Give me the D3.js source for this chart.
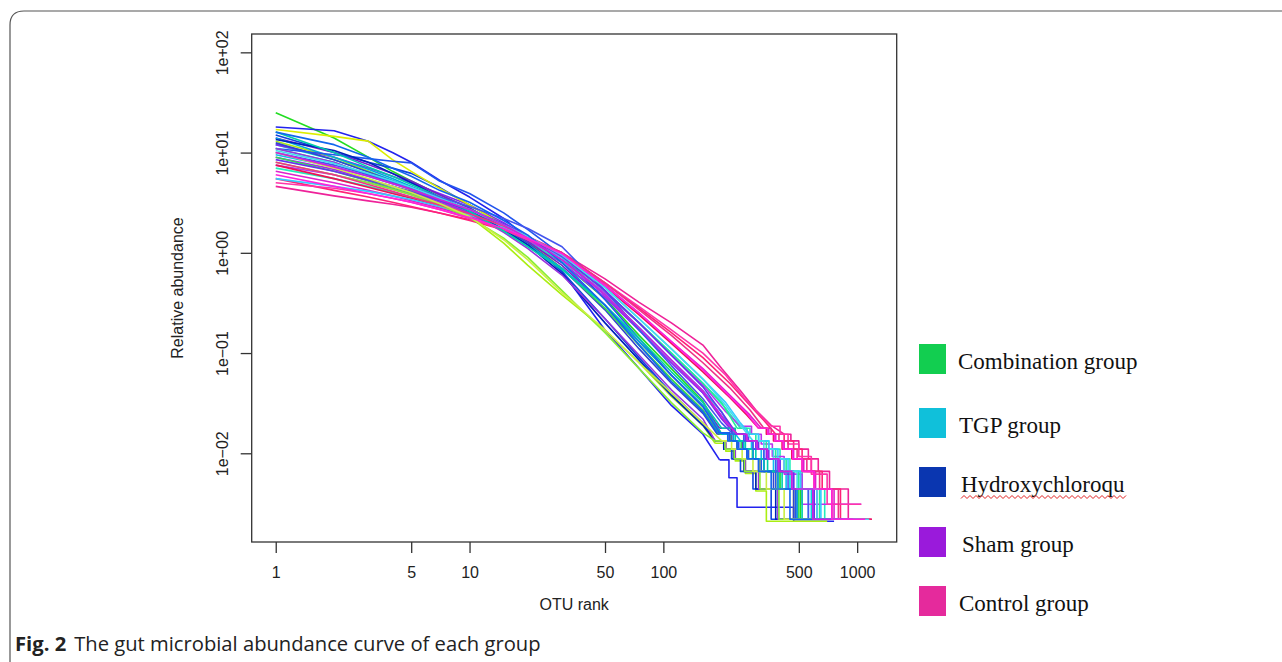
<!DOCTYPE html>
<html><head><meta charset="utf-8">
<script src="https://cdn.jsdelivr.net/npm/d3@7"></script>
<style>body{margin:0;background:#fff}svg{display:block}</style>
</head><body><svg id="c" width="1282" height="662"></svg>
<script>
// ---------------- data ----------------
const GROUPS = ["Combination group", "TGP group", "Hydroxychloroqu", "Sham group", "Control group"];
const GROUP_COLORS = ["#12CE50", "#10C0DA", "#0A36B0", "#9A1ADB", "#E52A9C"];
const X_TICKS = [1, 5, 10, 50, 100, 500, 1000];
const Y_TICKS = [100, 10, 1, 0.1, 0.01];
const Y_TICK_LABELS = ["1e+02", "1e+01", "1e+00", "1e\u221201", "1e\u221202"];
const HEAD_RANKS = [1, 2, 3, 4, 5, 7, 10, 15, 20, 30, 50, 75, 110, 160];

const SAMPLE_COLORS = [
  "#22DD22", "#AAEE11", "#DDEE00", "#33DD55", "#22EE99", "#88EE33", "#CCEE44",
  "#00DDDD", "#11BBEE", "#22EEBB", "#00AADD", "#33CCFF", "#00CCAA", "#44DDEE",
  "#2222EE", "#1144DD", "#3344CC", "#2255EE", "#0022BB", "#4455EE", "#1166EE",
  "#8822EE", "#AA22EE", "#7722CC", "#BB33EE", "#9933DD", "#6633EE", "#CC22DD",
  "#EE2299", "#FF2277", "#DD22CC", "#EE1155", "#FF33AA", "#EE3388", "#FF22DD"
];

const HEAD_VALUES = [
  [25, 14, 9, 6.5, 5.2, 3.8, 2.8, 1.8, 1.3, 0.8, 0.35, 0.15, 0.07, 0.033],
  [13, 9, 6.5, 5.0, 4.2, 3.1, 2.3, 1.25, 0.75, 0.38, 0.17, 0.08, 0.037, 0.019],
  [17, 14.5, 13, 8.5, 6.5, 4.4, 3.0, 1.9, 1.3, 0.7, 0.28, 0.12, 0.055, 0.027],
  [9, 6.5, 5.2, 4.4, 3.9, 3.1, 2.5, 1.7, 1.2, 0.7, 0.28, 0.12, 0.055, 0.027],
  [11, 8, 6, 5, 4.3, 3.4, 2.7, 1.9, 1.4, 0.9, 0.42, 0.2, 0.1, 0.05],
  [8, 6, 5, 4.3, 3.8, 3.0, 2.25, 1.4, 0.9, 0.42, 0.16, 0.07, 0.032, 0.016],
  [10, 7, 5.5, 4.6, 4.0, 3.1, 2.3, 1.35, 0.85, 0.4, 0.17, 0.08, 0.04, 0.02],

  [12, 8.5, 6.5, 5.3, 4.5, 3.5, 2.7, 1.9, 1.4, 0.85, 0.38, 0.18, 0.085, 0.042],
  [9.5, 7.2, 5.8, 4.9, 4.3, 3.4, 2.6, 1.8, 1.3, 0.8, 0.36, 0.17, 0.08, 0.04],
  [7, 5.5, 4.6, 4.0, 3.6, 3.0, 2.4, 1.75, 1.3, 0.82, 0.4, 0.2, 0.1, 0.05],
  [14, 9, 6.8, 5.5, 4.6, 3.5, 2.6, 1.7, 1.2, 0.7, 0.3, 0.13, 0.06, 0.03],
  [5.5, 4.6, 4.1, 3.7, 3.4, 2.9, 2.4, 1.8, 1.4, 0.9, 0.45, 0.22, 0.11, 0.055],
  [16, 10, 7.2, 5.8, 4.8, 3.6, 2.6, 1.65, 1.15, 0.68, 0.3, 0.14, 0.065, 0.032],
  [10.5, 7.8, 6.2, 5.2, 4.5, 3.5, 2.7, 1.9, 1.45, 0.95, 0.45, 0.22, 0.11, 0.055],

  [18, 16.5, 13, 10, 8, 5.3, 3.6, 2.2, 1.4, 0.65, 0.17, 0.07, 0.03, 0.0155],
  [15, 10, 8, 7, 6.2, 4.5, 3.0, 1.9, 1.3, 0.65, 0.22, 0.09, 0.04, 0.02],
  [12.5, 8.5, 6.4, 5.2, 4.4, 3.4, 2.6, 1.75, 1.25, 0.7, 0.27, 0.11, 0.05, 0.025],
  [11, 9.5, 8.7, 8.2, 7.9, 5.2, 3.9, 2.5, 1.7, 0.95, 0.34, 0.14, 0.06, 0.029],
  [13.5, 10.5, 8, 6.2, 5, 3.6, 2.6, 1.7, 1.2, 0.62, 0.2, 0.085, 0.038, 0.019],
  [10, 7.5, 6, 5.1, 4.5, 3.6, 2.9, 2.2, 1.75, 1.15, 0.42, 0.17, 0.075, 0.035],
  [16, 12, 9, 7, 5.8, 4.2, 3.2, 2.1, 1.5, 0.8, 0.3, 0.12, 0.052, 0.026],

  [12, 9, 7, 5.8, 5, 3.9, 3.0, 2.0, 1.45, 0.9, 0.38, 0.17, 0.08, 0.04],
  [9, 6.8, 5.4, 4.6, 4.0, 3.2, 2.5, 1.75, 1.3, 0.8, 0.36, 0.17, 0.08, 0.04],
  [14, 10, 7.6, 6.2, 5.2, 3.8, 2.8, 1.8, 1.3, 0.75, 0.3, 0.13, 0.06, 0.03],
  [7.5, 6, 5, 4.3, 3.8, 3.1, 2.5, 1.8, 1.35, 0.85, 0.4, 0.2, 0.095, 0.048],
  [11, 8, 6, 5, 4.3, 3.3, 2.5, 1.6, 1.1, 0.6, 0.22, 0.095, 0.043, 0.022],
  [8.5, 6.5, 5.3, 4.6, 4.1, 3.3, 2.7, 1.95, 1.45, 0.92, 0.42, 0.2, 0.095, 0.046],
  [10, 7.2, 5.8, 4.9, 4.3, 3.4, 2.7, 1.9, 1.4, 0.85, 0.38, 0.18, 0.085, 0.042],

  [4.6, 3.7, 3.3, 3.05, 2.85, 2.5, 2.15, 1.75, 1.4, 1.0, 0.55, 0.32, 0.2, 0.12],
  [5.5, 4.2, 3.6, 3.2, 2.9, 2.5, 2.1, 1.7, 1.4, 1.0, 0.5, 0.28, 0.16, 0.09],
  [6.5, 5, 4.2, 3.7, 3.3, 2.8, 2.3, 1.8, 1.45, 1.0, 0.48, 0.25, 0.13, 0.07],
  [7.5, 5.5, 4.5, 3.9, 3.5, 2.9, 2.4, 1.8, 1.4, 0.95, 0.46, 0.24, 0.125, 0.065],
  [5, 4.4, 3.9, 3.5, 3.2, 2.7, 2.2, 1.7, 1.35, 0.95, 0.5, 0.29, 0.17, 0.1],
  [8, 6, 4.8, 4.1, 3.6, 3.0, 2.45, 1.85, 1.45, 1.0, 0.5, 0.27, 0.15, 0.08],
  [6, 4.6, 3.9, 3.5, 3.2, 2.7, 2.25, 1.75, 1.4, 0.98, 0.47, 0.25, 0.13, 0.068]
];

const MID_POINTS = [
  [], [], [], [], [[200, 0.032]], [], [],
  [[200, 0.026]], [[210, 0.021]], [[210, 0.028]], [], [[210, 0.032], [250, 0.02]], [], [[210, 0.03], [250, 0.019]],
  [], [], [], [], [], [[200, 0.02]], [],
  [[200, 0.022]], [[205, 0.022]], [], [[210, 0.026]], [], [[205, 0.024]], [[205, 0.022]],
  [[200, 0.07], [250, 0.042], [300, 0.027], [360, 0.019]],
  [[220, 0.05], [280, 0.03], [340, 0.02]],
  [[220, 0.038], [280, 0.024]],
  [[220, 0.036], [270, 0.024]],
  [[210, 0.06], [260, 0.036], [310, 0.025]],
  [[220, 0.045], [280, 0.027]],
  [[220, 0.037], [270, 0.025]]
];

const STEP_POINTS = [
  [[200,0.0155],[225,0.0133],[255,0.011],[290,0.0088],[330,0.0066],[400,0.0044],[510,0.0022],[900,0.0022]],
  [[185,0.0126],[210,0.0105],[235,0.0084],[265,0.0063],[300,0.0042],[340,0.0021],[700,0.0021]],
  [[190,0.0155],[215,0.0133],[240,0.011],[275,0.0088],[315,0.0066],[380,0.0044],[470,0.0022],[860,0.0022]],
  [[195,0.0155],[222,0.0133],[252,0.011],[288,0.0088],[330,0.0066],[400,0.0044],[500,0.0022],[850,0.0022]],
  [[240,0.0178],[270,0.0155],[300,0.0133],[340,0.011],[380,0.0088],[430,0.0066],[500,0.0044],[640,0.0022],[1000,0.0022]],
  [[185,0.0133],[208,0.011],[232,0.0088],[262,0.0066],[315,0.0044],[395,0.0022],[760,0.0022]],
  [[200,0.0133],[225,0.011],[255,0.0088],[290,0.0066],[340,0.0044],[420,0.0022],[820,0.0022]],

  [[230,0.0155],[260,0.0133],[290,0.011],[330,0.0088],[380,0.0066],[450,0.0044],[580,0.0022],[950,0.0022]],
  [[250,0.0133],[285,0.011],[320,0.0088],[370,0.0066],[430,0.0044],[560,0.0022],[1100,0.0022]],
  [[250,0.0178],[280,0.0155],[310,0.0133],[350,0.011],[400,0.0088],[450,0.0066],[520,0.0044],[680,0.0022],[1050,0.0022]],
  [[200,0.0155],[230,0.0133],[260,0.011],[290,0.0088],[330,0.0066],[390,0.0044],[490,0.0022],[880,0.0022]],
  [[280,0.0155],[310,0.0133],[350,0.011],[390,0.0088],[440,0.0066],[510,0.0044],[650,0.0022],[1000,0.0022]],
  [[200,0.0178],[235,0.0133],[265,0.011],[300,0.0088],[345,0.0066],[410,0.0044],[520,0.0022],[920,0.0022]],
  [[290,0.0133],[330,0.011],[370,0.0088],[420,0.0066],[490,0.0044],[620,0.0022],[1150,0.0022]],

  [[195,0.0086],[218,0.0057],[240,0.0029],[470,0.0021],[760,0.0021]],
  [[185,0.0133],[205,0.011],[225,0.0088],[250,0.0066],[290,0.0044],[360,0.0022],[780,0.0022]],
  [[190,0.0155],[215,0.0133],[240,0.011],[270,0.0088],[310,0.0066],[370,0.0044],[470,0.0022],[870,0.0022]],
  [[195,0.016],[220,0.0133],[245,0.011],[275,0.0088],[320,0.0066],[380,0.0044],[480,0.0022],[900,0.0022]],
  [[185,0.0133],[205,0.011],[230,0.0088],[260,0.0066],[300,0.0044],[380,0.0022],[800,0.0022]],
  [[230,0.0155],[260,0.0133],[290,0.011],[330,0.0088],[380,0.0066],[440,0.0044],[560,0.0022],[1000,0.0022]],
  [[190,0.016],[215,0.0133],[240,0.011],[270,0.0088],[310,0.0066],[360,0.0044],[450,0.0022],[840,0.0022]],

  [[235,0.0155],[265,0.0133],[300,0.011],[340,0.0088],[390,0.0066],[460,0.0044],[600,0.0022],[1000,0.0022]],
  [[240,0.0155],[270,0.0133],[305,0.011],[345,0.0088],[400,0.0066],[470,0.0044],[620,0.0022],[1120,0.0022]],
  [[195,0.0178],[225,0.0133],[255,0.011],[290,0.0088],[330,0.0066],[390,0.0044],[490,0.0022],[900,0.0022]],
  [[250,0.0186],[285,0.0155],[320,0.0124],[365,0.0093],[420,0.0062],[520,0.0031],[1050,0.0031]],
  [[185,0.0133],[210,0.011],[235,0.0088],[265,0.0066],[310,0.0044],[390,0.0022],[760,0.0022]],
  [[240,0.0155],[275,0.0133],[310,0.011],[350,0.0088],[400,0.0066],[470,0.0044],[600,0.0022],[980,0.0022]],
  [[240,0.0155],[270,0.0133],[305,0.011],[345,0.0088],[395,0.0066],[460,0.0044],[590,0.0022],[950,0.0022]],

  [[420,0.0155],[455,0.0133],[500,0.011],[560,0.0088],[630,0.0066],[720,0.0044],[900,0.0022],[1190,0.0022]],
  [[380,0.0155],[420,0.0133],[470,0.011],[520,0.0088],[580,0.0066],[660,0.0044],[820,0.0022],[1150,0.0022]],
  [[320,0.0178],[350,0.0155],[380,0.0133],[420,0.011],[470,0.0088],[530,0.0066],[610,0.0044],[760,0.0022],[1080,0.0022]],
  [[310,0.0178],[340,0.0155],[370,0.0133],[410,0.011],[460,0.0088],[520,0.0066],[600,0.0044],[740,0.0022],[1190,0.0022]],
  [[360,0.0186],[400,0.0155],[440,0.0124],[500,0.0093],[580,0.0062],[700,0.0031],[1050,0.0031]],
  [[330,0.0178],[360,0.0155],[395,0.0133],[440,0.011],[490,0.0088],[550,0.0066],[640,0.0044],[800,0.0022],[1170,0.0022]],
  [[310,0.0178],[345,0.0155],[375,0.0133],[415,0.011],[465,0.0088],[520,0.0066],[600,0.0044],[740,0.0022],[1100,0.0022]]
];

// ---------------- drawing ----------------
const svg = d3.select("#c");
const SANS = "'Liberation Sans', Arial, Helvetica, sans-serif";

// figure frame
svg.append("path")
  .attr("d", "M10,662 V25 Q10,11 24,11 H1282")
  .attr("fill", "none").attr("stroke", "#555").attr("stroke-width", 1.2);

const plot = {left: 251.7, right: 896.7, top: 34, bottom: 542};
const x = d3.scaleLog().domain([Math.pow(10, -0.124), Math.pow(10, 3.204)]).range([plot.left, plot.right]);
const y = d3.scaleLog().domain([Math.pow(10, 2.183), Math.pow(10, -2.885)]).range([plot.top, plot.bottom]);

// lines (interleave groups so no colour dominates)
const order = [];
for (let i = 0; i < 7; i++) for (let g = 0; g < 5; g++) order.push(g * 7 + i);

const lin = d3.line().x(d => x(d[0])).y(d => y(d[1]));
const stp = d3.line().x(d => x(d[0])).y(d => y(d[1])).curve(d3.curveStepAfter);
const gl = svg.append("g").attr("fill", "none").attr("stroke-width", 1.6).attr("stroke-linejoin", "round");
order.forEach(s => {
  const head = HEAD_RANKS.map((r, i) => [r, HEAD_VALUES[s][i]])
    .concat(MID_POINTS[s]).concat([STEP_POINTS[s][0]]);
  gl.append("path").attr("d", lin(head)).attr("stroke", SAMPLE_COLORS[s]);
  gl.append("path").attr("d", stp(STEP_POINTS[s])).attr("stroke", SAMPLE_COLORS[s]);
});

// box
svg.append("rect").attr("x", plot.left).attr("y", plot.top)
  .attr("width", plot.right - plot.left).attr("height", plot.bottom - plot.top)
  .attr("fill", "none").attr("stroke", "#333").attr("stroke-width", 1.3);

// x axis
const gx = svg.append("g").attr("transform", `translate(0,${plot.bottom})`)
  .call(d3.axisBottom(x).tickValues(X_TICKS).tickFormat(d => String(d)).tickSize(11).tickPadding(14));
gx.select(".domain").remove();
gx.selectAll("line").attr("stroke", "#333").attr("stroke-width", 1.3);
gx.selectAll("text").attr("font-family", SANS).attr("font-size", 16).attr("fill", "#222");

// y axis
const gy = svg.append("g").attr("transform", `translate(${plot.left},0)`)
  .call(d3.axisLeft(y).tickValues(Y_TICKS).tickFormat((d, i) => Y_TICK_LABELS[i]).tickSize(11));
gy.select(".domain").remove();
gy.selectAll("line").attr("stroke", "#333").attr("stroke-width", 1.3);
gy.selectAll("text")
  .attr("x", null).attr("dy", null)
  .attr("transform", "translate(-23.7,0) rotate(-90)")
  .attr("text-anchor", "middle")
  .attr("font-family", SANS).attr("font-size", 16).attr("fill", "#222");

// axis titles
svg.append("text").attr("x", (plot.left + plot.right) / 2).attr("y", 610)
  .attr("text-anchor", "middle").attr("font-family", SANS).attr("font-size", 16).attr("fill", "#222")
  .text("OTU rank");
svg.append("text").attr("transform", "translate(183,288) rotate(-90)")
  .attr("text-anchor", "middle").attr("font-family", SANS).attr("font-size", 16).attr("fill", "#222")
  .text("Relative abundance");

// legend
const legTops = [344, 408, 467, 527, 586];
const legTextX = [958, 959, 961, 962, 959];
const lg = svg.append("g");
GROUPS.forEach((name, i) => {
  lg.append("rect").attr("x", 919).attr("y", legTops[i]).attr("width", 27).attr("height", 30)
    .attr("fill", GROUP_COLORS[i]);
  lg.append("text").attr("x", legTextX[i]).attr("y", legTops[i] + 25)
    .attr("font-family", "'Liberation Serif', 'Times New Roman', serif")
    .attr("font-size", 23).attr("fill", "#111").text(name);
});
// spell-check squiggle under the truncated label
const sq = d3.range(961, 1129, 3).map((px, k) => [px, k % 2 ? 495.5 : 498.5]);
lg.append("path").attr("d", d3.line()(sq)).attr("fill", "none").attr("stroke", "#E02020").attr("stroke-width", 1);

// caption
const cap = svg.append("text").attr("x", 15).attr("y", 651)
  .attr("font-family", "'Open Sans', 'Noto Sans', sans-serif").attr("font-size", 20.2).attr("fill", "#222");
cap.append("tspan").attr("font-weight", "bold").text("Fig. 2");
cap.append("tspan").attr("dx", 8).text("The gut microbial abundance curve of each group");
</script></body></html>
